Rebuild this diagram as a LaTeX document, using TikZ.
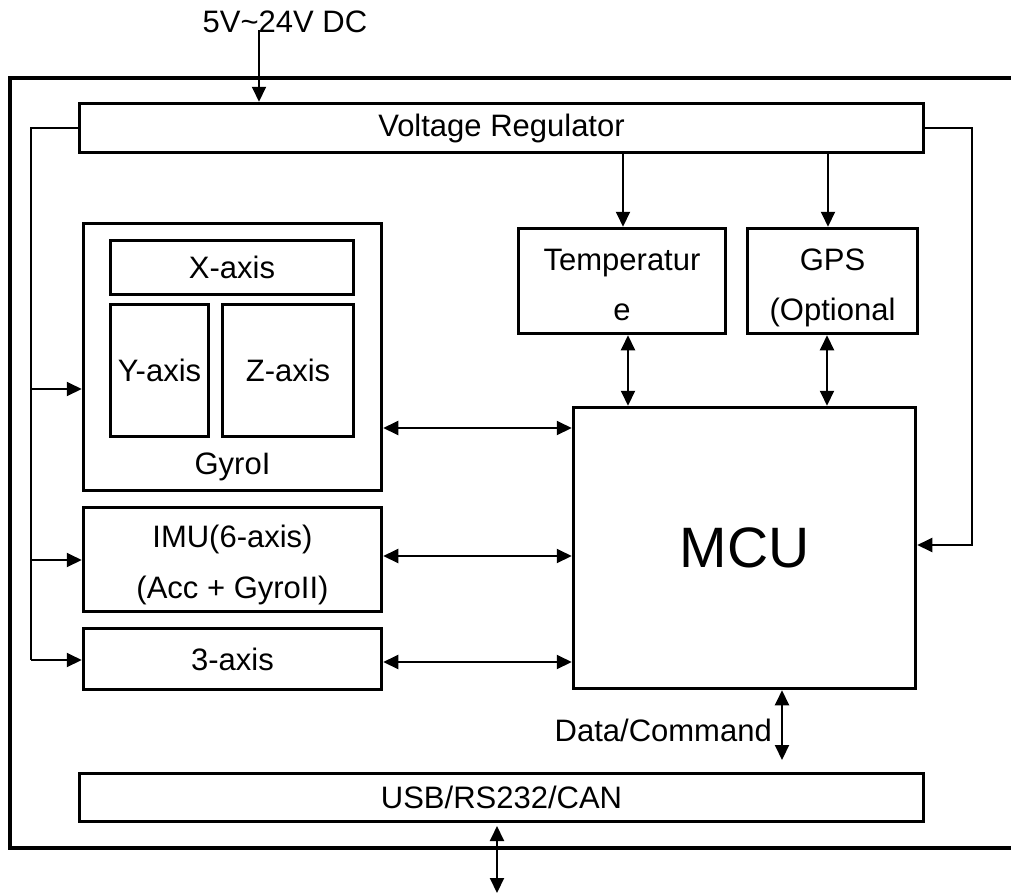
\documentclass[tikz,border=0pt]{standalone}
\usepackage{fontspec}
\setmainfont{Liberation Sans}
\usetikzlibrary{arrows.meta,calc}
\begin{document}
\begin{tikzpicture}[x=1pt,y=-1pt,
  box/.style={draw, line width=3.5pt, inner sep=0pt, align=center,
    font=\fontsize{31}{52}\selectfont},
  txt/.style={inner sep=0pt, font=\fontsize{31}{37}\selectfont},
  btxt/.style={txt, anchor=base},
  con/.style={line width=2pt},
  tip/.style={con, -{Triangle[length=15pt,width=14pt]}},
  dtip/.style={con, {Triangle[length=15pt,width=14pt]}-{Triangle[length=15pt,width=14pt]}}]
\useasboundingbox (0,0) rectangle (1011,894);

% outer frame (open on the right)
\draw[line width=3.5pt] (1020,78) -- (10,78) -- (10,848) -- (1020,848);

% boxes
\node[box, minimum width=844, minimum height=49] (VR) at (501.5,128) {Voltage Regulator};
\node[box, minimum width=298, minimum height=267] (Gyro) at (232.5,357) {};
\node[box, minimum width=243, minimum height=54] (X) at (232,267.5) {X-axis};
\node[box, minimum width=98, minimum height=132] (Y) at (159.5,370.5) {Y-axis};
\node[box, minimum width=131, minimum height=132] (Z) at (288,370.5) {Z-axis};
\node[txt] (GyroL) at (232.5,467) {GyroI};
\node[box, minimum width=298, minimum height=104] (IMU) at (232.5,559.5) {};
\node[btxt] (IMUa) at (232.5,547) {IMU(6-axis)};
\node[btxt] (IMUb) at (232.5,598) {(Acc + GyroII)};
\node[box, minimum width=298, minimum height=61] (Three) at (232.5,659) {3-axis};
\node[box, minimum width=207, minimum height=105] (Temp) at (622,281) {};
\node[btxt] (Tempa) at (622,270) {Temperatur};
\node[btxt] (Tempb) at (622,320) {e};
\node[box, minimum width=170, minimum height=105] (GPS) at (832.5,281) {};
\node[btxt] (GPSa) at (832.5,270) {GPS};
\node[btxt] (GPSb) at (832.5,320) {(Optional};
\node[box, minimum width=342, minimum height=281, font=\fontsize{57}{68}\selectfont] (MCU) at (744.5,548) {MCU};
\node[box, minimum width=844, minimum height=48] (USB) at (501.5,797.5) {USB/RS232/CAN};

% power input
\node[txt] (PWR) at (285,22) {5V\char`~24V DC};
\coordinate (p0) at (259,30);
\draw[tip] (p0) -- (p0 |- VR.north);

% left supply bus
\coordinate (b1) at (31,389);
\coordinate (b2) at (31,560);
\coordinate (b3) at (31,660);
\draw[con] (VR.west) -| (b3);
\draw[tip] (b1) -- (b1 -| Gyro.west);
\draw[tip] (b2) -- (b2 -| IMU.west);
\draw[tip] (b3) -- (b3 -| Three.west);

% right supply line
\coordinate (rb) at (972,545);
\draw[tip] (VR.east) -| (rb) -- (rb -| MCU.east);

% supply to temperature and GPS
\coordinate (t0) at (623,0);
\coordinate (g0) at (828,0);
\draw[tip] (t0 |- VR.south) -- (t0 |- Temp.north);
\draw[tip] (g0 |- VR.south) -- (g0 |- GPS.north);

% temperature / GPS <-> MCU
\coordinate (t1) at (628,0);
\coordinate (g1) at (827,0);
\draw[dtip] (t1 |- Temp.south) -- (t1 |- MCU.north);
\draw[dtip] (g1 |- GPS.south) -- (g1 |- MCU.north);

% sensors <-> MCU
\coordinate (s1) at (0,428);
\coordinate (s2) at (0,556);
\coordinate (s3) at (0,662);
\draw[dtip] (s1 -| Gyro.east) -- (s1 -| MCU.west);
\draw[dtip] (s2 -| IMU.east) -- (s2 -| MCU.west);
\draw[dtip] (s3 -| Three.east) -- (s3 -| MCU.west);

% MCU <-> USB
\coordinate (dc) at (782,760);
\draw[dtip] (dc |- MCU.south) -- (dc);
\node[txt, anchor=east] (DCL) at (772,730) {Data/Command};

% external interface
\coordinate (u1) at (497,826);
\coordinate (u2) at (497,893);
\draw[dtip] (u1) -- (u2);
\end{tikzpicture}
\end{document}
